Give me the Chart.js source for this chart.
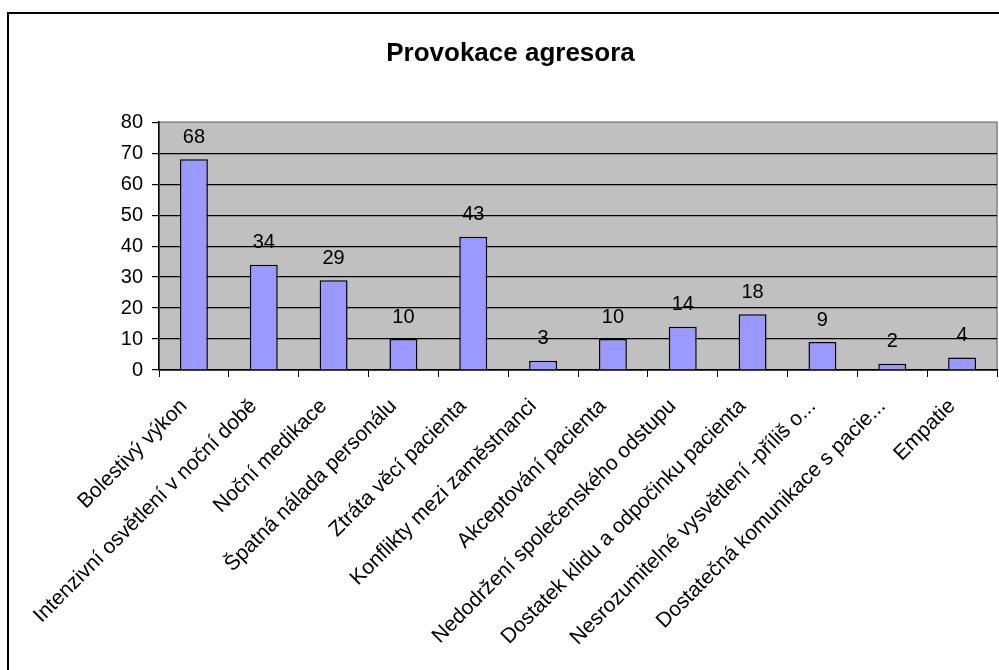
<!DOCTYPE html>
<html lang="cs">
<head>
  <meta charset="UTF-8" />
  <title>Provokace agresora</title>
  <script src="https://cdn.jsdelivr.net/npm/chart.js"></script>
  <style>
    html, body { margin: 0; padding: 0; background: #fff; overflow: hidden; }
    canvas { display: block; }
  </style>
</head>
<body>
  <canvas id="chart" width="999" height="670"></canvas>

  <script>
    // data
    const categories = [
      "Bolestivý výkon",
      "Intenzivní osvětlení v noční době",
      "Noční medikace",
      "Špatná nálada personálu",
      "Ztráta věcí pacienta",
      "Konflikty mezi zaměstnanci",
      "Akceptování pacienta",
      "Nedodržení společenského odstupu",
      "Dostatek klidu a odpočinku pacienta",
      "Nesrozumitelné vysvětlení -příliš o...",
      "Dostatečná komunikace s pacie...",
      "Empatie"
    ];
    const counts = [68, 34, 29, 10, 43, 3, 10, 14, 18, 9, 2, 4];
    const yTicks = [0, 10, 20, 30, 40, 50, 60, 70, 80];

    const FONT = "'Liberation Sans', Arial, sans-serif";

    // gray plot background + outer frame
    const frame = {
      id: 'frame',
      beforeDraw(chart) {
        const { ctx, chartArea: a } = chart;
        ctx.save();
        ctx.lineWidth = 2;
        ctx.strokeStyle = '#000';
        ctx.strokeRect(8, 13, 1200, 900);
        ctx.fillStyle = '#c0c0c0';
        ctx.fillRect(a.left, a.top, a.right - a.left, a.bottom - a.top);
        ctx.lineWidth = 1.5;
        ctx.strokeStyle = '#808080';
        ctx.strokeRect(a.left, a.top, a.right - a.left, a.bottom - a.top);
        ctx.restore();
      }
    };

    // value labels above each bar
    const valueLabels = {
      id: 'valueLabels',
      afterDatasetsDraw(chart) {
        const { ctx } = chart;
        const meta = chart.getDatasetMeta(0);
        ctx.save();
        ctx.font = '20px ' + FONT;
        ctx.fillStyle = '#000';
        ctx.textAlign = 'center';
        ctx.textBaseline = 'bottom';
        meta.data.forEach((bar, i) => {
          ctx.fillText(String(counts[i]), bar.x, bar.y - 12);
        });
        ctx.restore();
      }
    };

    new Chart(document.getElementById('chart'), {
      type: 'bar',
      data: {
        labels: categories,
        datasets: [{
          data: counts,
          backgroundColor: '#9999ff',
          borderColor: '#000',
          borderWidth: 1.5,
          categoryPercentage: 1,
          barPercentage: 0.4
        }]
      },
      options: {
        responsive: false,
        animation: false,
        layout: { padding: { left: 24, right: 2, top: 0, bottom: 0 } },
        plugins: {
          legend: { display: false },
          tooltip: { enabled: false },
          title: {
            display: true,
            text: 'Provokace agresora',
            color: '#000',
            font: { family: FONT, size: 26, weight: 'bold' },
            padding: { top: 38, bottom: 53 }
          }
        },
        scales: {
          x: {
            afterFit(scale) { scale.height = 300; },
            border: { color: '#000', width: 1.5 },
            grid: {
              offset: true,
              drawOnChartArea: false,
              tickLength: 7,
              color: '#000'
            },
            ticks: {
              autoSkip: false,
              minRotation: 45,
              maxRotation: 45,
              padding: 17,
              labelOffset: -10,
              color: '#000',
              font: { family: FONT, size: 21 }
            }
          },
          y: {
            min: 0,
            max: 80,
            afterFit(scale) { scale.width = 135; },
            afterBuildTicks(scale) { scale.ticks = yTicks.map(v => ({ value: v })); },
            border: { color: '#000', width: 1.5 },
            grid: {
              tickLength: 7,
              tickColor: '#000',
              color: ctx => ctx.tick && ctx.tick.value === 80 ? 'rgba(0,0,0,0)' : '#000',
              lineWidth: 1.2
            },
            ticks: {
              padding: 9,
              color: '#000',
              font: { family: FONT, size: 20 }
            }
          }
        }
      },
      plugins: [frame, valueLabels]
    });
  </script>
</body>
</html>
